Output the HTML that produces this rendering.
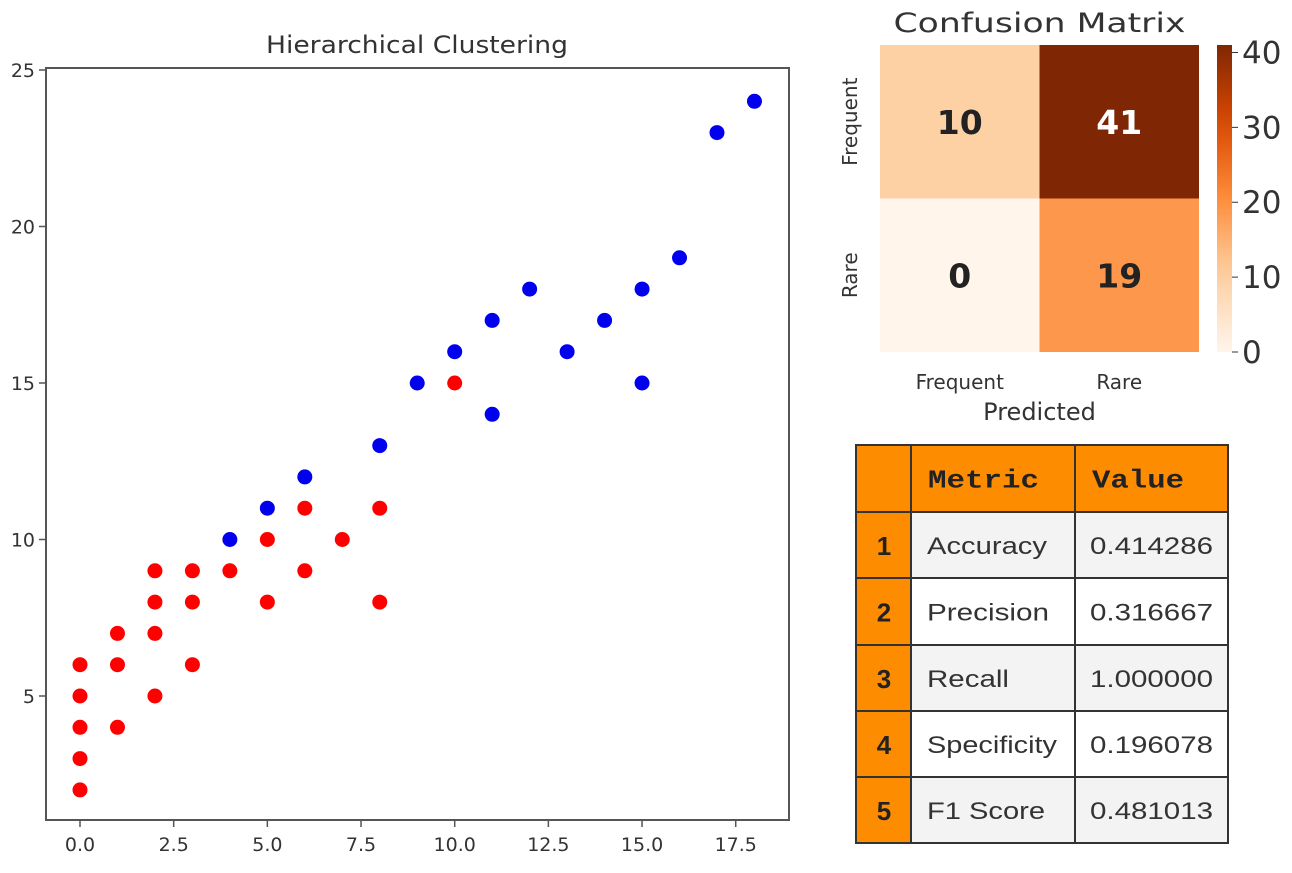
<!DOCTYPE html>
<html><head><meta charset="utf-8"><style>
body{margin:0;background:#fff;width:1292px;height:873px;overflow:hidden;font-family:"DejaVu Sans","Liberation Sans",sans-serif}
svg{position:absolute;left:0;top:0}
</style></head><body>
<svg width="1292" height="873">
<g id="scatter"></g>
<g id="heat"></g>
<g id="table"></g>
</svg>
<script>
const redX=[0,0,0,0,0,1,1,1,2,2,2,2,3,3,3,4,5,5,6,6,7,8,8,10];
const redY=[2,3,4,5,6,4,6,7,5,7,8,9,6,8,9,9,8,10,9,11,10,8,11,15];
const blueX=[4,5,6,8,9,10,11,11,12,13,14,15,15,16,17,18];
const blueY=[10,11,12,13,15,16,14,17,18,16,17,15,18,19,23,24];
const xTicks=[0,2.5,5,7.5,10,12.5,15,17.5];
const yTicks=[5,10,15,20,25];
const cmValues=[[10,41],[0,19]];
const cmLabels=["Frequent","Rare"];
const cbTicks=[0,10,20,30,40];
const metricNames=["Accuracy","Precision","Recall","Specificity","F1 Score"];
const metricValues=["0.414286","0.316667","1.000000","0.196078","0.481013"];
const nameWidths=[120,122,82,130,118];

const NS="http://www.w3.org/2000/svg";
function mk(p,t,a,txt){const e=document.createElementNS(NS,t);for(const k in a)e.setAttribute(k,a[k]);if(txt!==undefined)e.textContent=txt;p.appendChild(e);return e;}
const sx=v=>80+v*37.47, sy=v=>70+(25-v)*31.3;
const S=document.getElementById('scatter');
let e=mk(S,'text',{x:417,y:53,'text-anchor':'middle','font-size':24,fill:'#333',textLength:302,lengthAdjust:'spacingAndGlyphs'},'Hierarchical Clustering');


e=mk(S,'rect',{x:46,y:68,width:743,height:752,fill:'none',stroke:'#555','stroke-width':2});


xTicks.forEach(t=>{mk(S,'line',{x1:sx(t),x2:sx(t),y1:820,y2:827,stroke:'#555','stroke-width':1.5});
 e=mk(S,'text',{x:sx(t),y:851,'text-anchor':'middle','font-size':19,fill:'#333'},t.toFixed(1));
 
 });
yTicks.forEach(t=>{mk(S,'line',{x1:39,x2:46,y1:sy(t),y2:sy(t),stroke:'#555','stroke-width':1.5});
 e=mk(S,'text',{x:35,y:sy(t)+7,'text-anchor':'end','font-size':19,fill:'#333'},t);
 
 });
redX.forEach((x,i)=>{e=mk(S,'circle',{cx:sx(x),cy:sy(redY[i]),r:7.5,fill:'#f00'});
 
 });
blueX.forEach((x,i)=>{e=mk(S,'circle',{cx:sx(x),cy:sy(blueY[i]),r:7.5,fill:'#0000ee'});
 
 });

// heatmap
const H=document.getElementById('heat');
function col(v){const t=v/41;const stops=[[0,[255,245,235]],[0.25,[253,208,162]],[0.5,[253,141,60]],[0.75,[217,72,1]],[1,[127,39,4]]];
 for(let i=1;i<stops.length;i++){if(t<=stops[i][0]){const a=stops[i-1],b=stops[i];const f=(t-a[0])/(b[0]-a[0]);return 'rgb('+a[1].map((c,j)=>Math.round(c+(b[1][j]-c)*f)).join(',')+')';}}return 'rgb(127,39,4)';}
const hx=880,hy=45,cw=159.5,ch=153.5;
e=mk(H,'text',{x:hx+cw,y:32,'text-anchor':'middle','font-size':27,fill:'#333',textLength:292,lengthAdjust:'spacingAndGlyphs'},'Confusion Matrix');


cmValues.forEach((row,r)=>row.forEach((v,c)=>{
 e=mk(H,'rect',{x:hx+c*cw,y:hy+r*ch,width:cw,height:ch,fill:col(v)});
 
 
 e=mk(H,'text',{x:hx+c*cw+cw/2,y:hy+r*ch+ch/2+12,'text-anchor':'middle','font-size':33,'font-weight':'bold',fill:v>30?'#fff':'#222'},v);
 
 }));
cmLabels.forEach((l,i)=>{
 e=mk(H,'text',{x:hx+i*cw+cw/2,y:389,'text-anchor':'middle','font-size':20,fill:'#333'},l);
 
 
 const cy=hy+i*ch+ch/2;
 e=mk(H,'text',{x:0,y:0,'text-anchor':'middle','font-size':20,fill:'#333',transform:`translate(857,${cy}) rotate(-90)`},l);
 
 });
e=mk(H,'text',{x:hx+cw,y:420,'text-anchor':'middle','font-size':24,fill:'#333'},'Predicted');


const defs=mk(H,'defs',{});const g=mk(defs,'linearGradient',{id:'cb',x1:0,y1:1,x2:0,y2:0});
for(let i=0;i<=10;i++)mk(g,'stop',{offset:i/10,'stop-color':col(41*i/10)});
e=mk(H,'rect',{x:1217,y:hy,width:15,height:2*ch,fill:'url(#cb)'});


cbTicks.forEach(t=>{const y=hy+2*ch*(1-t/41);mk(H,'line',{x1:1232,x2:1238,y1:y,y2:y,stroke:'#333'});
 e=mk(H,'text',{x:1242,y:y+11,'font-size':31,fill:'#333'},t);
 
 });

// table
const T=document.getElementById('table');
const tx=[856,911,1075,1228],rowY=[445,512,578,645,711,777,843];
const OR='#fd8c00';
for(let r=0;r<6;r++){const y=rowY[r],h=rowY[r+1]-y;
 mk(T,'rect',{x:tx[0],y,width:tx[1]-tx[0],height:h,fill:OR,stroke:'#333','stroke-width':2});
 mk(T,'rect',{x:tx[1],y,width:tx[2]-tx[1],height:h,fill:r==0?OR:(r%2?'#f3f3f3':'#fff'),stroke:'#333','stroke-width':2});
 mk(T,'rect',{x:tx[2],y,width:tx[3]-tx[2],height:h,fill:r==0?OR:(r%2?'#f3f3f3':'#fff'),stroke:'#333','stroke-width':2});
 const ty=y+h/2+9;
 if(r==0){
  e=mk(T,'text',{x:928,y:ty,'font-size':26,'font-weight':'bold','font-family':'Liberation Mono,monospace',fill:'#222',textLength:111,lengthAdjust:'spacingAndGlyphs'},'Metric');
  
  
  e=mk(T,'text',{x:1092,y:ty,'font-size':26,'font-weight':'bold','font-family':'Liberation Mono,monospace',fill:'#222',textLength:92,lengthAdjust:'spacingAndGlyphs'},'Value');
  
  
 } else {
  e=mk(T,'text',{x:884,y:ty+1,'text-anchor':'middle','font-size':26,'font-weight':'bold','font-family':'Liberation Sans,sans-serif',fill:'#222'},r);
  
  
  e=mk(T,'text',{x:927,y:ty,'font-size':24,'font-family':'Liberation Sans,sans-serif',fill:'#333',textLength:nameWidths[r-1],lengthAdjust:'spacingAndGlyphs'},metricNames[r-1]);
  
  
  e=mk(T,'text',{x:1213,y:ty,'text-anchor':'end','font-size':24,'font-family':'Liberation Sans,sans-serif',fill:'#333',textLength:123,lengthAdjust:'spacingAndGlyphs'},metricValues[r-1]);
  
  
 }}
</script>
</body></html>
